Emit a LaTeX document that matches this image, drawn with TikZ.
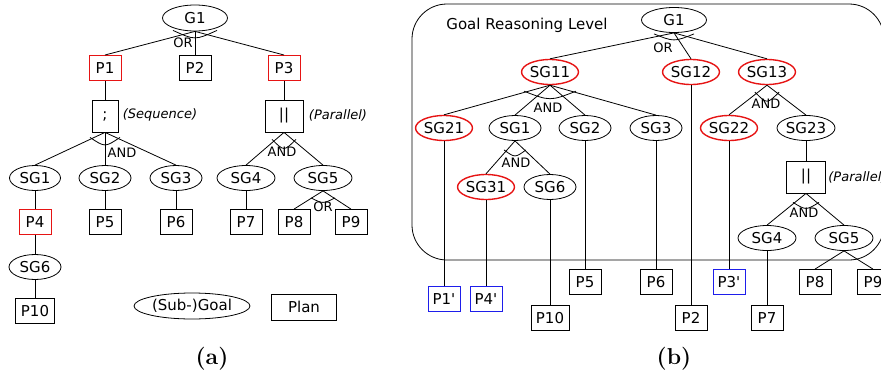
\documentclass[tikz,border=0pt]{standalone}
\usepackage{fontspec}
\newfontfamily\djv{DejaVu Sans}[ItalicFont={DejaVu Sans Oblique}]
\usetikzlibrary{shapes.geometric,calc}
\newcommand\nf{\djv\fontsize{15}{18}\selectfont}
\newcommand\lf{\djv\fontsize{13}{15}\selectfont}
\newcommand\itf{\djv\itshape\fontsize{13}{15}\selectfont}
\newcommand\jarc[4]{\draw ($(#1)+(-#2,#3)$) .. controls ($(#1)+(0,{#3+2*#4})$) .. ($(#1)+(#2,#3)$);}
\definecolor{selred}{RGB}{230,20,20}
\definecolor{selblue}{RGB}{30,30,235}
\tikzset{
  goal/.style={ellipse, draw, minimum width=52pt, minimum height=25pt, inner sep=0pt, font=\nf},
  plan/.style={rectangle, draw, minimum width=32pt, minimum height=25pt, inner sep=0pt, font=\nf},
  opbox/.style={rectangle, draw, minimum height=32pt, inner sep=0pt, font=\nf},
  selg/.style={draw=selred, line width=1.4pt},
  selp/.style={draw=selred, line width=1pt},
  newp/.style={draw=selblue, line width=1pt},
  lbl/.style={font=\lf, inner sep=0pt},
  itl/.style={font=\itf, inner sep=0pt},
  captxt/.style={font=\normalfont\bfseries\fontsize{23}{27}\selectfont, inner sep=0pt}
}
\begin{document}
\begin{tikzpicture}[x=1pt,y=-1pt,line width=0.8pt]
\useasboundingbox (0,0) rectangle (881,375);
\clip (0,0) rectangle (881,375);
% ---------------- (a) ----------------
\node[goal, minimum width=65pt, minimum height=26pt] (G1a) at (195,18) {G1};
\node[plan, selp] (P1a) at (105,68) {P1};
\node[plan] (P2a) at (195,68) {P2};
\node[plan, selp] (P3a) at (284,68) {P3};
\node[opbox, minimum width=26pt] (seqa) at (105,116) {;};
\node[opbox, minimum width=38pt] (para) at (284,116) {||};
\node[goal, minimum width=51pt] (SG1a) at (35,178) {SG1};
\node[goal] (SG2a) at (105,178) {SG2};
\node[goal] (SG3a) at (176,178) {SG3};
\node[goal, minimum width=58pt] (SG4a) at (246,178) {SG4};
\node[goal, minimum width=58pt] (SG5a) at (323,178) {SG5};
\node[plan, selp] (P4a) at (35,222) {P4};
\node[plan] (P5a) at (105,222) {P5};
\node[plan] (P6a) at (176,222) {P6};
\node[plan] (P7a) at (246,222) {P7};
\node[plan] (P8a) at (294,222) {P8};
\node[plan] (P9a) at (351,222) {P9};
\node[goal] (SG6a) at (35,267) {SG6};
\node[plan, minimum width=39pt] (P10a) at (35,311) {P10};
\node[goal, minimum width=116pt, minimum height=26pt] (leggoal) at (192,306) {(Sub-)Goal};
\node[plan, minimum width=65pt, minimum height=26pt] (legplan) at (304,307) {Plan};
\node[lbl] (ORa1) at (183,43) {OR};
\node[itl] (seqlbl) at (160,115) {(Sequence)};
\node[itl] (parlbl) at (338,115) {(Parallel)};
\node[lbl] (ANDa1) at (122,153) {AND};
\node[lbl] (ANDa2) at (282,152) {AND};
\node[lbl] (ORa2) at (323,207) {OR};
\node[captxt] (capa) at (212,359) {(a)};
\draw (G1a.south) -- (P1a.north);
\draw (G1a.south) -- (P2a.north);
\draw (G1a.south) -- (P3a.north);
\jarc{G1a.south}{22}{-1}{5}
\draw (P1a) -- (seqa);
\draw (P3a) -- (para);
\draw (seqa.south) -- (SG1a.north);
\draw (seqa.south) -- (SG2a.north);
\draw (seqa.south) -- (SG3a.north);
\jarc{seqa.south}{15}{5}{5}
\draw (para.south) -- (SG4a.north);
\draw (para.south) -- (SG5a.north);
\jarc{para.south}{12}{7}{6}
\draw (SG1a) -- (P4a);
\draw (SG2a) -- (P5a);
\draw (SG3a) -- (P6a);
\draw (SG4a) -- (P7a);
\draw (SG5a.south) -- (P8a.north);
\draw (SG5a.south) -- (P9a.north);
\jarc{SG5a.south}{12}{7}{3}
\draw (P4a) -- (SG6a);
\draw (SG6a) -- (P10a);
% ---------------- (b) ----------------
\draw[rounded corners=35pt] (412,4) rectangle (884,260);
\node[font=\nf, inner sep=0pt] (grl) at (527,25) {Goal Reasoning Level};
\node[goal, minimum width=65pt] (G1b) at (674,20) {G1};
\node[goal, selg] (SG11) at (550,72) {SG11};
\node[goal, selg] (SG12) at (691,72) {SG12};
\node[goal, selg] (SG13) at (767,72) {SG13};
\node[goal, selg] (SG21) at (444,128) {SG21};
\node[goal] (SG1b) at (515,128) {SG1};
\node[goal] (SG2b) at (585,128) {SG2};
\node[goal] (SG3b) at (656,128) {SG3};
\node[goal, selg, minimum width=57pt] (SG22) at (729,128) {SG22};
\node[goal, minimum width=58pt] (SG23) at (806,128) {SG23};
\node[goal, selg, minimum width=51pt] (SG31) at (486,187) {SG31};
\node[goal] (SG6b) at (550,187) {SG6};
\node[opbox, minimum width=39pt] (parb) at (806,177) {||};
\node[itl, anchor=west] (parlblb) at (828,177) {(Parallel)};
\node[goal, minimum width=58pt] (SG4b) at (767,238) {SG4};
\node[goal, minimum width=58pt] (SG5b) at (844,238) {SG5};
\node[plan, newp] (P1n) at (444,299) {P1'};
\node[plan, newp] (P4n) at (486,299) {P4'};
\node[plan, minimum width=38pt] (P10b) at (550,318) {P10};
\node[plan] (P5b) at (585,282) {P5};
\node[plan] (P6b) at (656,282) {P6};
\node[plan] (P2b) at (691,318) {P2};
\node[plan, newp] (P3n) at (729,282) {P3'};
\node[plan] (P7b) at (767,318) {P7};
\node[plan] (P8b) at (815,282) {P8};
\node[plan] (P9b) at (873,282) {P9};
\node[lbl] (ORb) at (663,48) {OR};
\node[lbl] (ANDb1) at (548,108) {AND};
\node[lbl] (ANDb2) at (766,104) {AND};
\node[lbl] (ANDb3) at (516,163) {AND};
\node[lbl] (ANDb4) at (804,213) {AND};
\node[captxt] (capb) at (674,359) {(b)};
\draw (G1b.south) -- (SG11.north);
\draw (G1b.south) -- (SG12.north);
\draw (G1b.south) -- (SG13.north);
\jarc{G1b.south}{20}{1}{4}
\draw (SG11.south) -- (SG21.north);
\draw (SG11.south) -- (SG1b.north);
\draw (SG11.south) -- (SG2b.north);
\draw (SG11.south) -- (SG3b.north);
\jarc{SG11.south}{26}{6}{5}
\draw (SG13.south) -- (SG22.north);
\draw (SG13.south) -- (SG23.north);
\jarc{SG13.south}{12}{7}{6}
\draw (SG1b.south) -- (SG31.north);
\draw (SG1b.south) -- (SG6b.north);
\jarc{SG1b.south}{11}{9}{4}
\draw (SG23) -- (parb);
\draw (parb.south) -- (SG4b.north);
\draw (parb.south) -- (SG5b.north);
\jarc{parb.south}{13}{9}{4}
\draw (SG21) -- (P1n);
\draw (SG31) -- (P4n);
\draw (SG6b) -- (P10b);
\draw (SG2b) -- (P5b);
\draw (SG3b) -- (P6b);
\draw (SG12) -- (P2b);
\draw (SG22) -- (P3n);
\draw (SG4b) -- (P7b);
\draw (SG5b.south) -- (P8b.north);
\draw (SG5b.south) -- (P9b.north);
\end{tikzpicture}
\end{document}
